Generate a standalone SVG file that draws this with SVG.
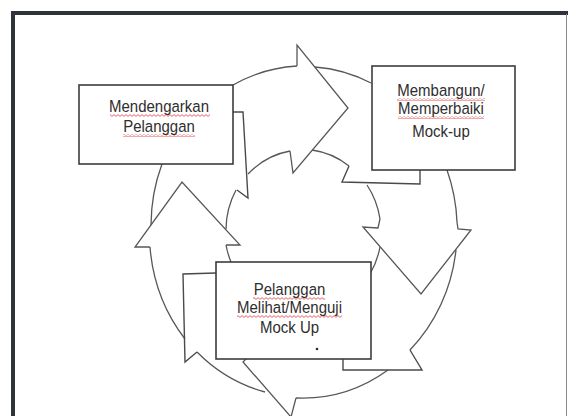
<svg xmlns="http://www.w3.org/2000/svg" width="568" height="416" viewBox="0 0 568 416">
  <defs>
    <style>
      .ring { fill: none; stroke: #575757; stroke-width: 1.3; stroke-linejoin: miter; }
      .tab { fill: none; stroke: #4a4a4a; stroke-width: 1.4; }
      .box { fill: #ffffff; stroke: #3c3c3c; stroke-width: 1.6; }
      .label { font-family: "Liberation Sans", Arial, sans-serif; font-size: 15px; fill: #2e2e2e; text-anchor: middle; }
      .spell { fill: url(#squiggle); }
    </style>
    <pattern id="squiggle" patternUnits="userSpaceOnUse" width="4" height="3">
      <polyline points="0,2.4 2,0.6 4,2.4" fill="none" stroke="#e03a3a" stroke-width="0.8"/>
    </pattern>
  </defs>

  <!-- page frame -->
  <rect x="0" y="0" width="568" height="416" fill="#ffffff"/>
  <rect x="11" y="11" width="557" height="4" fill="#30343a"/>
  <rect x="11" y="11" width="4" height="405" fill="#30343a"/>
  <line x1="566.5" y1="14" x2="566.5" y2="416" stroke="#8a8a8a" stroke-width="1"/>

  <!-- curved cycle arrows -->
  <g id="connectors" class="ring">
    <!-- arrow: left side up to the top, head pointing right -->
    <path d="M151,225 A154,166 0 0 1 162,164"/>
    <path d="M233,85 A154,166 0 0 1 297,66"/>
    <path d="M226,229 A78,82 0 0 1 236,190"/>
    <path d="M248,174 A78,82 0 0 1 290,151"/>
    <path d="M297,66 L297,45 L348,108 L293,173 L290,151"/>

    <!-- arrow: top down the right side, head pointing down -->
    <path d="M315,67 A154,166 0 0 1 371,83"/>
    <path d="M447,170 A154,166 0 0 1 457,222"/>
    <path d="M312,150 A78,82 0 0 1 349,166"/>
    <path d="M367,185 A78,82 0 0 1 380,219"/>
    <path d="M380,219 L378,228 L363,227 L421,294 L471,230 L458,229 L457,222"/>

    <!-- arrow: right side round the bottom, head pointing left -->
    <path d="M456,250 A154,166 0 0 1 410,350"/>
    <path d="M388,370 A154,166 0 0 1 296,398"/>
    <path d="M380,247 A78,82 0 0 1 370,274"/>
    <path d="M296,398 L291,417 L243,362 L250,355"/>

    <!-- arrow: bottom up the left side, head pointing up -->
    <path d="M265,392 A154,166 0 0 1 197,352"/>
    <path d="M185,339 A154,166 0 0 1 150,247"/>
    <path d="M231,262 A78,82 0 0 1 226,245"/>
    <path d="M150,247 L135,247 L182,182 L240,245 L226,245"/>

    <!-- tabs behind the boxes -->
    <path class="tab" d="M233,112 L243,112 L248,198 L237,190"/>
    <path class="tab" d="M349,166 L342,182 L420,184 L420,170"/>
    <path class="tab" d="M410,350 L422,370 L343,370 L343,359"/>
    <path class="tab" d="M216,273 L183,274 L185,362 L197,352"/>
  </g>

  <!-- labels are stretched 10% vertically about their baselines -->
  <g id="node-listen">
    <rect class="box" x="79" y="85" width="154" height="79"/>
    <text class="label" x="159" y="112" transform="matrix(1 0 0 1.1 0 -11.2)">Mendengarkan</text>
    <text class="label" x="159" y="132" transform="matrix(1 0 0 1.1 0 -13.2)">Pelanggan</text>
    <rect class="spell" x="110" y="114" width="100" height="3"/>
    <rect class="spell" x="123" y="134" width="72" height="3"/>
  </g>

  <g id="node-build">
    <rect class="box" x="372" y="66" width="143" height="104"/>
    <text class="label" x="441" y="96" transform="matrix(1 0 0 1.1 0 -9.6)">Membangun/</text>
    <text class="label" x="441" y="114" transform="matrix(1 0 0 1.1 0 -11.4)">Memperbaiki</text>
    <text class="label" x="441" y="137" transform="matrix(1 0 0 1.1 0 -13.7)">Mock-up</text>
    <rect class="spell" x="397" y="98" width="88" height="3"/>
    <rect class="spell" x="398" y="116" width="86" height="3"/>
  </g>

  <g id="node-test">
    <rect class="box" x="216" y="262" width="155" height="97"/>
    <text class="label" x="289.5" y="295" transform="matrix(1 0 0 1.1 0 -29.5)">Pelanggan</text>
    <text class="label" x="289.5" y="313" transform="matrix(1 0 0 1.1 0 -31.3)">Melihat/Menguji</text>
    <text class="label" x="289.5" y="333" transform="matrix(1 0 0 1.1 0 -33.3)">Mock Up</text>
    <rect class="spell" x="253" y="297" width="72" height="3"/>
    <rect class="spell" x="237" y="315" width="105" height="3"/>
    <circle cx="317" cy="349" r="1.3" fill="#2e2e2e"/>
  </g>
</svg>
